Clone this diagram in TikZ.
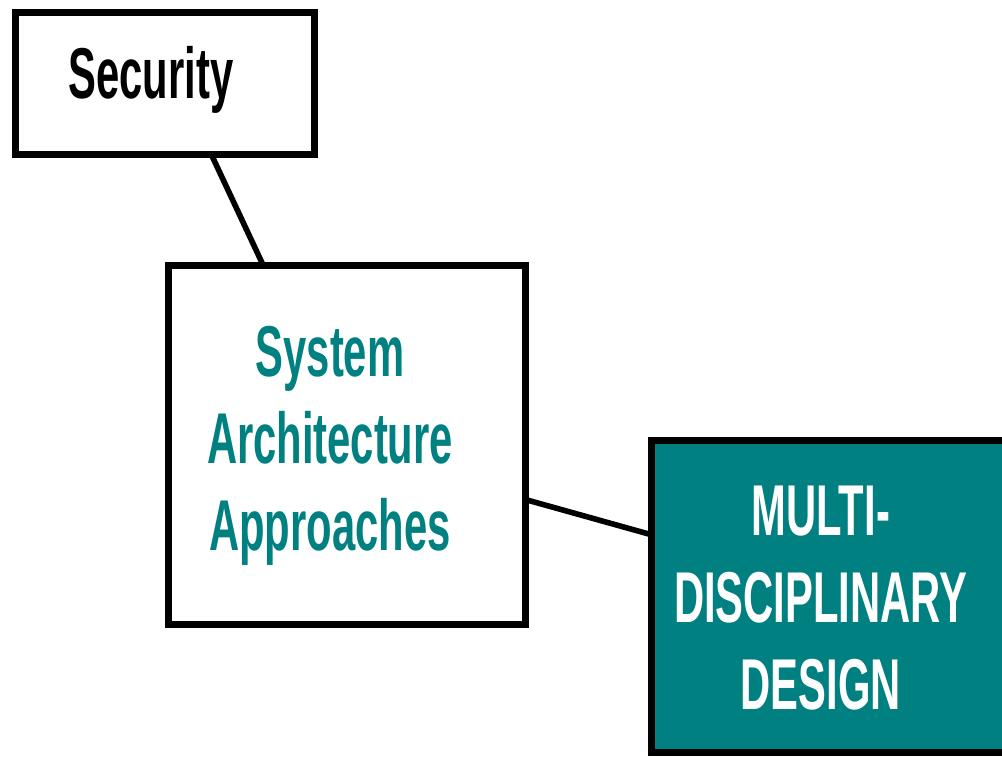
\documentclass[tikz,border=0pt]{standalone}
\usepackage{fontspec}
\setmainfont{Liberation Sans}[FakeStretch=0.58]
\usepackage{tikz}
\usetikzlibrary{positioning}
\definecolor{tealbox}{RGB}{0,128,128}
\tikzset{
    box/.style={
        rectangle,
        draw,
        line width=3.5pt,
        inner sep=0pt,
        outer sep=0pt
    },
    boxtext/.style={
        align=center,
        font=\bfseries\fontsize{36}{43.5}\selectfont
    },
    link/.style={
        line width=2.8pt
    }
}

\begin{document}
\begin{tikzpicture}[x=0.5pt, y=-0.5pt] % one unit = one pixel, y down
        \path[use as bounding box] (0,0) rectangle (1002,756);
        \clip (0,0) rectangle (1002,756);

        % Boxes
        \node (sec) [box, minimum width=149.5pt, minimum height=71pt] at (165,83) {};
        \node (arch) [box, minimum width=178.5pt, minimum height=179.5pt] at (347,445) {};
        \node (md) [box, fill=tealbox, minimum width=189.25pt, minimum height=155.75pt] at (840.75,596.25) {};

        % Texts
        \node (sectext) [boxtext, anchor=base] at ([shift={(-14,15)}]sec.center) {Security};
        \node (archtext) [boxtext, text=tealbox] at ([shift={(-17,1)}]arch.center) {System\\Architecture\\Approaches};
        \node (mdtext) [boxtext, text=white] at ([shift={(-20,2)}]md.center) {MULTI-\\DISCIPLINARY\\DESIGN};

        % Lines
        \draw[link] (sec.-57.6) -- (arch.115.4);
        \draw[link] (arch.-17.1) -- (md.162.7);
    \end{tikzpicture}
\end{document}
